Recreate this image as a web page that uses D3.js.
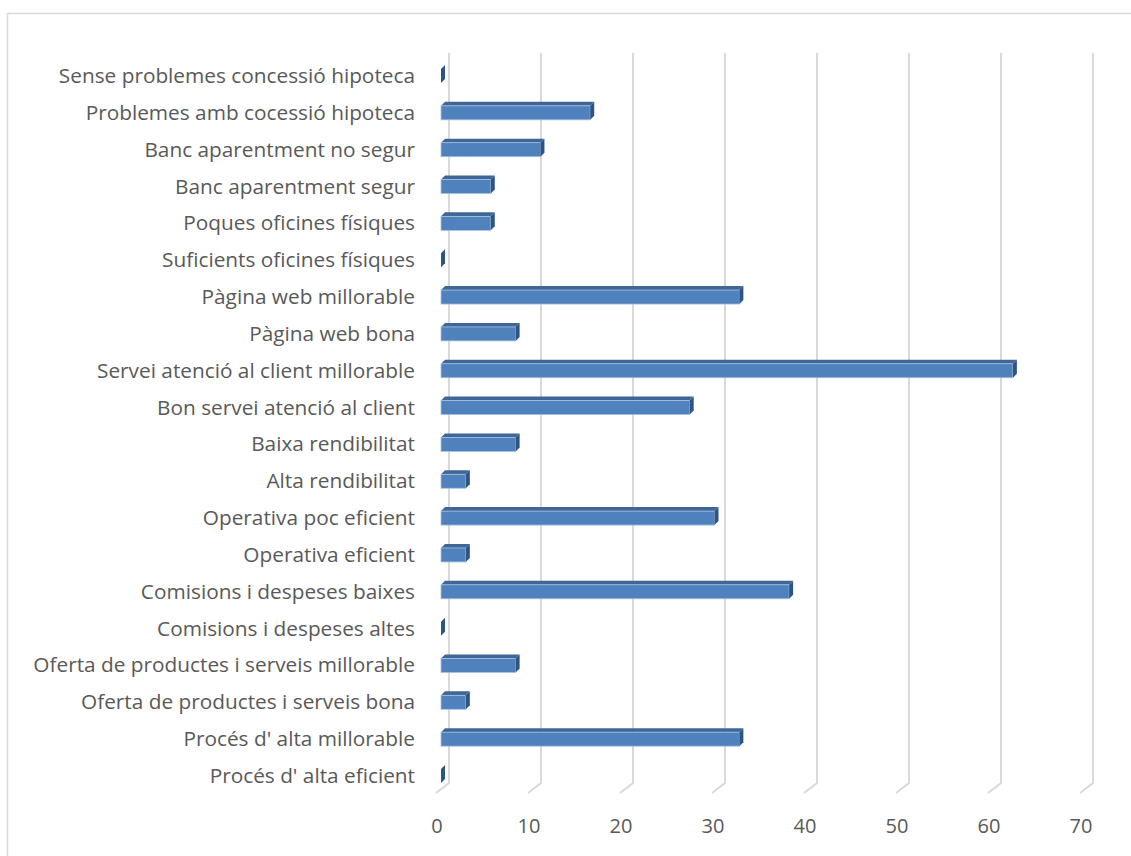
<!DOCTYPE html>
<html><head><meta charset="utf-8">
<script src="https://cdn.jsdelivr.net/npm/d3@7"></script>
<style>body{margin:0;background:#fff}svg{display:block}</style>
</head><body>
<svg id="c" width="1131" height="856"></svg>
<script>
const categories = [
  "Sense problemes concessió hipoteca",
  "Problemes amb cocessió hipoteca",
  "Banc aparentment no segur",
  "Banc aparentment segur",
  "Poques oficines físiques",
  "Suficients oficines físiques",
  "Pàgina web millorable",
  "Pàgina web bona",
  "Servei atenció al client millorable",
  "Bon servei atenció al client",
  "Baixa rendibilitat",
  "Alta rendibilitat",
  "Operativa poc eficient",
  "Operativa eficient",
  "Comisions i despeses baixes",
  "Comisions i despeses altes",
  "Oferta de productes i serveis millorable",
  "Oferta de productes i serveis bona",
  "Procés d' alta millorable",
  "Procés d' alta eficient"
];
const values = [0, 16.22, 10.81, 5.41, 5.41, 0, 32.43, 8.11, 62.16, 27.03, 8.11, 2.70, 29.73, 2.70, 37.84, 0, 8.11, 2.70, 32.43, 0];
const ticks = [0, 10, 20, 30, 40, 50, 60, 70];

const svg = d3.select("#c");
const font = "'Open Sans', sans-serif";

// chart border
svg.append("rect").attr("x", 7.5).attr("y", 13.5).attr("width", 1140).attr("height", 860)
  .attr("fill", "none").attr("stroke", "#d9d9d9").attr("stroke-width", 1.5);

const x = d3.scaleLinear().domain([0, 70]).range([441, 1085]);
const y = d3.scalePoint().domain(categories).range([76, 776]);

const backDx = 8, floorDx = -13, floorDy = 10, gridTop = 53, gridBot = 783;

// gridlines
const g = svg.append("g");
ticks.forEach(t => {
  const xb = x(t) + backDx;
  g.append("path")
    .attr("d", `M${xb},${gridTop}L${xb},${gridBot}L${xb + floorDx},${gridBot + floorDy}`)
    .attr("fill", "none").attr("stroke", "#d9d9d9").attr("stroke-width", 2);
});

// tick labels
svg.append("g").selectAll("text").data(ticks).join("text")
  .attr("x", d => x(d) - 4).attr("y", 833)
  .attr("text-anchor", "middle")
  .attr("font-family", font).attr("font-size", 20).attr("fill", "#595959")
  .text(d => d);

// category labels
svg.append("g").selectAll("text").data(categories).join("text")
  .attr("x", 415).attr("y", d => y(d) + 7)
  .attr("text-anchor", "end")
  .attr("font-family", font).attr("font-size", 20.8).attr("fill", "#595959")
  .text(d => d);

// bars (3D)
const h = 14, dx = 4, dy = 4;
const bars = svg.append("g");
categories.forEach((c, i) => {
  const cy = y(c), x0 = x(0), xv = x(values[i]);
  const t = cy - h / 2, b = cy + h / 2;
  if (values[i] > 0) {
    bars.append("path")
      .attr("d", `M${x0},${t}L${x0 + dx},${t - dy}L${xv + dx},${t - dy}L${xv},${t}Z`)
      .attr("fill", "#3e6797");
    bars.append("rect").attr("x", x0).attr("y", t).attr("width", xv - x0).attr("height", h)
      .attr("fill", "#4f81bd").attr("stroke", "#a9c1e0").attr("stroke-width", 0.8);
  }
  bars.append("path")
    .attr("d", `M${xv},${t}L${xv + dx},${t - dy}L${xv + dx},${b - dy}L${xv},${b}Z`)
    .attr("fill", "#2f5382");
});
</script>
</body></html>
